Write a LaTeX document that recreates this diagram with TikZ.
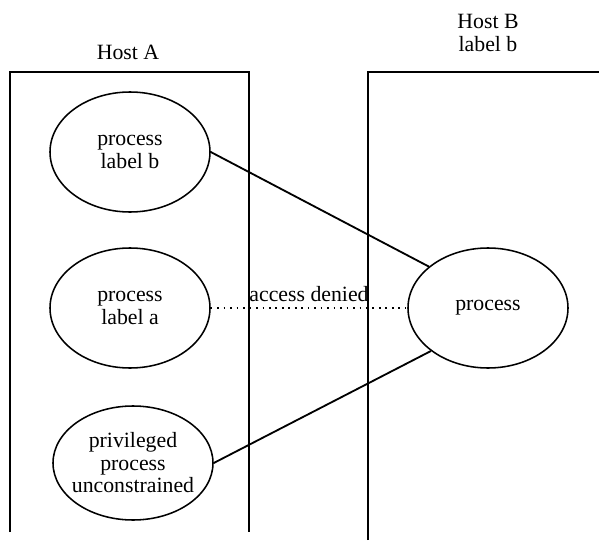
\documentclass[tikz,border=0pt]{standalone}
\usepackage{fontspec}
\setmainfont{Liberation Serif}
\usetikzlibrary{shapes.geometric}
\usetikzlibrary{positioning}

\tikzset{
  proc/.style={ellipse,draw,line width=1.1pt,minimum width=4cm,minimum height=3cm,align=center,inner sep=0pt},
  link/.style={line width=1.3pt},
  host/.style={line width=0.8pt}
}

\begin{document}
\begin{tikzpicture}[font=\fontsize{15.5}{16}\selectfont]
\useasboundingbox (0,0) rectangle (14.975,13.525);
% the two hosts, both open at the bottom
\draw[host] (0.25,0.225) -- (0.25,11.725) -- (6.225,11.725) -- (6.225,0.225);
\draw[host] (9.2,0.025) -- (9.2,11.725) -- (14.975,11.725);
\node[align=center] (hostA) at (3.2,12.225) {Host A};
\node[align=center] (hostB) at (12.2,12.7) {Host B\\label b};

% processes on host A
\node[proc] (pb) at (3.25,9.725) {process\\label b};
\node[proc] (pa) at (3.25,5.825) {process\\label a};
\node[proc,minimum height=2.85cm,inner sep=-9pt] (pp) at (3.325,1.95) {privileged\\process\\unconstrained};
% process on host B
\node[proc] (pr) at (12.2,5.825) {process};

\draw[link] (pb.east) -- (pr.145);
\draw[link] (pp.east) -- (pr.217);
\draw[line width=1.6pt,dash pattern=on 1.2pt off 3.4pt] (pa.east) -- node[above] {access denied} (pr.west);
\end{tikzpicture}
\end{document}
